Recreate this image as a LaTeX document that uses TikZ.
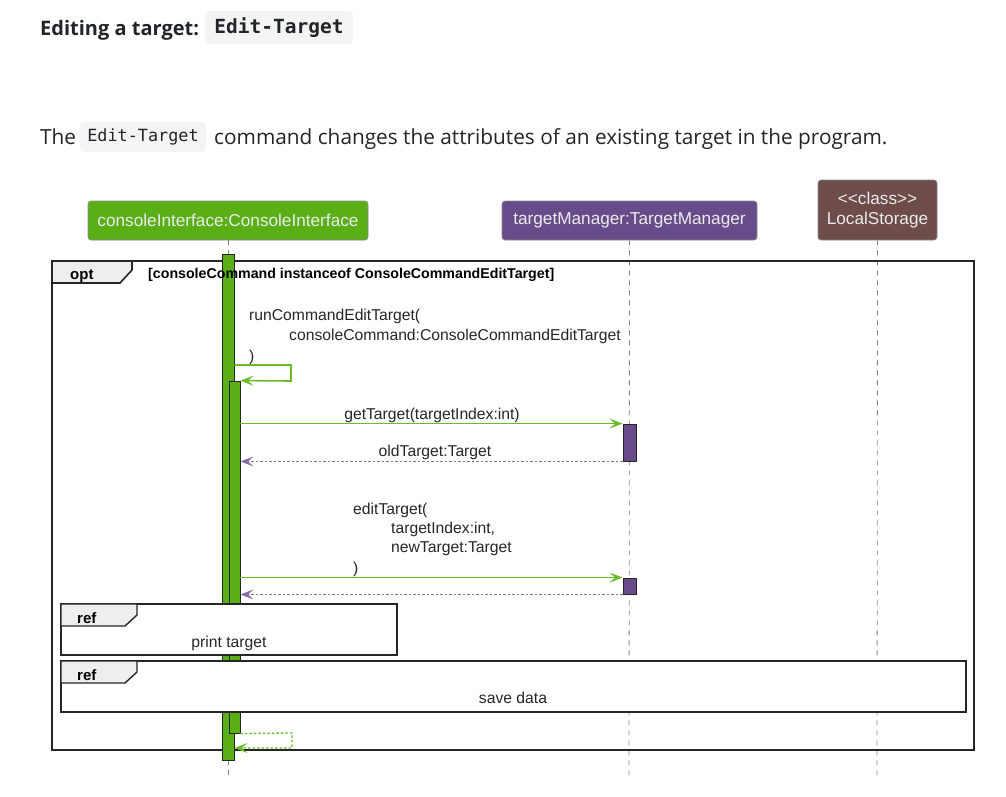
\documentclass[tikz,border=0pt]{standalone}
\usepackage{fontspec}
\setmainfont{Open Sans}
\newfontfamily\diag{Liberation Sans}
\newfontfamily\codefont{DejaVu Sans Mono}
\usetikzlibrary{arrows.meta}
\definecolor{pgreen}{RGB}{90,174,22}
\definecolor{agreen}{RGB}{104,188,40}
\definecolor{ppurple}{RGB}{104,76,137}
\definecolor{pbrown}{RGB}{110,76,74}
\definecolor{chipbg}{RGB}{243,244,244}
\definecolor{tabgray}{RGB}{238,238,238}
\definecolor{txt}{RGB}{33,37,41}
\tikzset{
  part/.style={rounded corners=3pt, draw=black!45, line width=0.6pt, text=white!92!black, inner sep=0pt, font=\diag\fontsize{17.2}{20}\selectfont, align=center},
  life/.style={draw=black!50, line width=0.8pt, dash pattern=on 5pt off 5pt},
  actbar/.style={draw=black!85, line width=0.9pt, inner sep=0pt, minimum width=12pt},
  msg/.style={draw=agreen, line width=1.6pt, -{Stealth[length=13pt,width=10pt,inset=5.5pt]}},
  ret/.style={draw=ppurple!80, line width=1.3pt, dash pattern=on 2.5pt off 2pt, -{Stealth[length=13pt,width=10pt,inset=5.5pt]}},
  gret/.style={draw=agreen, line width=1.3pt, dash pattern=on 2.5pt off 2pt, -{Stealth[length=13pt,width=10pt,inset=5.5pt]}},
  mtext/.style={anchor=base west, inner sep=0pt, font=\diag\fontsize{15.7}{18}\selectfont, text=black!85},
  frametab/.style={draw=black!85, line width=1.6pt, fill=tabgray},
  framebox/.style={draw=black!85, line width=1.8pt},
  tabtext/.style={anchor=base west, inner sep=0pt, font=\diag\bfseries\fontsize{15}{18}\selectfont},
  chip/.style={fill=chipbg, rounded corners=4pt, inner sep=0pt},
}
\begin{document}
\begin{tikzpicture}[x=1pt,y=-1pt]
\useasboundingbox (0,0) rectangle (1006,796);
% header
\node[anchor=base west, inner sep=0pt, font=\bfseries\fontsize{20}{24}\selectfont, text=txt] (title) at (40,35) {Editing a target:};
\node[chip, minimum width=148pt, minimum height=33pt] (tchip) at (279,27.5) {};
\node[inner sep=0pt, font=\codefont\bfseries\fontsize{19.5}{22}\selectfont, text=txt] (tcode) at (279,28) {Edit-Target};
\node[anchor=base west, inner sep=0pt, font=\fontsize{20.8}{24}\selectfont, text=txt] (p1) at (40,144) {The};
\node[chip, minimum width=126pt, minimum height=30pt] (pchip) at (143,137) {};
\node[inner sep=0pt, font=\codefont\fontsize{16.8}{20}\selectfont, text=txt] (pcode) at (143,137) {Edit-Target};
\node[anchor=base west, inner sep=0pt, font=\fontsize{20.8}{24}\selectfont, text=txt] (p2) at (214,144) {command changes the attributes of an existing target in the program.};
% participants
\node[part, fill=pgreen, minimum width=280pt, minimum height=39pt] (ci) at (228,220.5) {consoleInterface:ConsoleInterface};
\node[part, fill=ppurple, minimum width=255pt, minimum height=39pt] (tm) at (629.5,220.5) {targetManager:TargetManager};
\node[part, fill=pbrown, minimum width=119pt, minimum height=60pt] (ls) at (877.5,210) {<{}<class>{}>\\LocalStorage};
\coordinate (ciend) at (228,776);
\coordinate (tmend) at (629,776);
\coordinate (lsend) at (877,776);
\draw[life] (ci.south) -- (ciend);
\draw[life] (tm.south) -- (tmend);
\draw[life] (ls.south) -- (lsend);
% opt frame
\draw[framebox] (52,261) rectangle (974,750);
% activations
\node[actbar, fill=pgreen, minimum width=12pt, minimum height=506pt] (a1) at (228,507) {};
\node[actbar, fill=pgreen, minimum width=11pt, minimum height=352pt] (a2) at (234.5,557) {};
\node[actbar, fill=ppurple, minimum width=13pt, minimum height=37pt] (t1) at (629.5,442.5) {};
\node[actbar, fill=ppurple, minimum width=13pt, minimum height=16pt] (t2) at (629.5,586) {};
% opt tab
\draw[frametab] (52,261) -- (132,261) -- (132,270) -- (120,283) -- (52,283) -- cycle;
\node[tabtext] (optl) at (70,279) {opt};
\node[anchor=base west, inner sep=0pt, font=\diag\bfseries\fontsize{14.2}{17}\selectfont] (guard) at (148,278) {[consoleCommand instanceof ConsoleCommandEditTarget]};
% self message
\node[mtext] (m1a) at (249,320) {runCommandEditTarget(};
\node[mtext] (m1b) at (289,340) {consoleCommand:ConsoleCommandEditTarget};
\node[mtext] (m1c) at (249,361) {)};
\coordinate (s1) at (291,365);
\coordinate (s2) at (291,381);
\draw[msg] (a1.east |- s1) -- (s1) -- (s2) -- (a2.north east);
% getTarget
\node[mtext, anchor=base] (m2) at (432,419) {getTarget(targetIndex:int)};
\draw[msg] (a2.east |- t1.north) -- (t1.north west);
\node[mtext, anchor=base] (m3) at (435,456) {oldTarget:Target};
\draw[ret] (t1.south west) -- (a2.east |- t1.south);
% editTarget
\node[mtext] (m4a) at (353,514) {editTarget(};
\node[mtext] (m4b) at (391,533) {targetIndex:int,};
\node[mtext] (m4c) at (391,552) {newTarget:Target};
\node[mtext] (m4d) at (353,573) {)};
\draw[msg] (a2.east |- t2.north) -- (t2.north west);
\draw[ret] (t2.south west) -- (a2.east |- t2.south);
% ref 1
\draw[framebox, line width=1.5pt, fill=white] (61,604) rectangle (397,655);
\draw[frametab, line width=1.4pt] (61,604) -- (137,604) -- (137,615) -- (125,626) -- (61,626) -- cycle;
\node[tabtext] (r1l) at (77,623) {ref};
\node[mtext, anchor=base] (r1t) at (229,647) {print target};
% ref 2
\draw[framebox, line width=1.5pt, fill=white] (61,661) rectangle (966,712);
\draw[frametab, line width=1.4pt] (61,661) -- (137,661) -- (137,672) -- (125,683) -- (61,683) -- cycle;
\node[tabtext] (r2l) at (77,680) {ref};
\node[mtext, anchor=base] (r2t) at (513,703) {save data};
% final return
\coordinate (f1) at (292,733);
\coordinate (f2) at (292,748);
\draw[gret] (a2.south east) -- (f1) -- (f2) -- (a1.east |- f2);
\end{tikzpicture}
\end{document}
